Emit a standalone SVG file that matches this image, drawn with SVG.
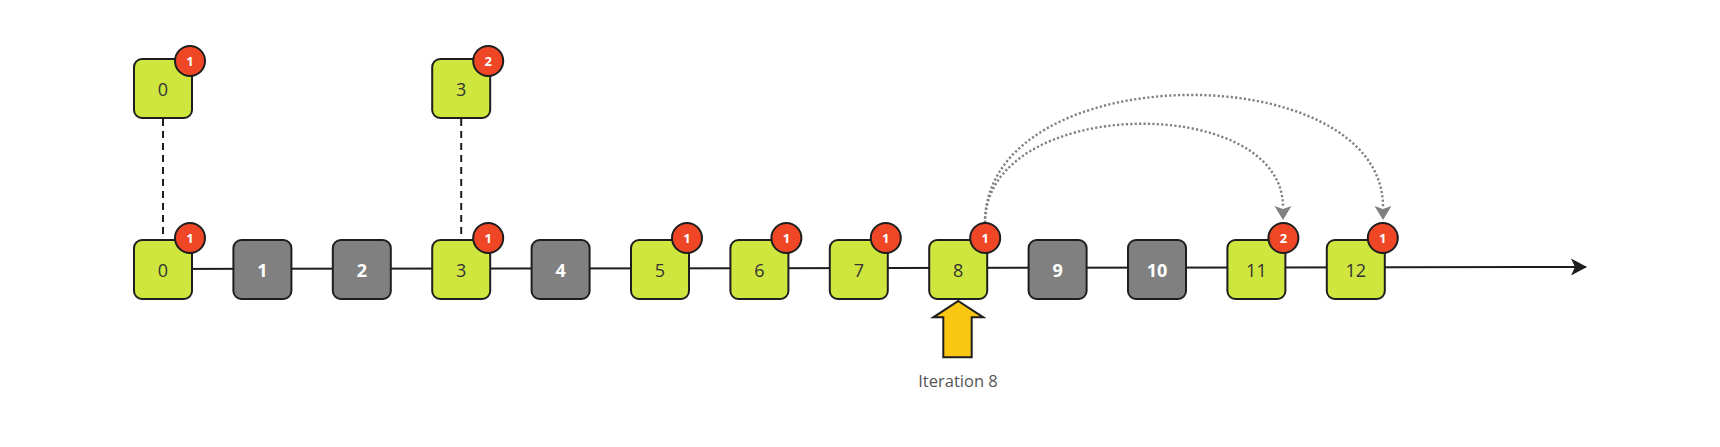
<svg xmlns="http://www.w3.org/2000/svg" width="1720" height="447" viewBox="0 0 1720 447">
<defs>
<style>
.g{fill:#cfe63e;stroke:#1e1e1e;stroke-width:2}
.d{fill:#808080;stroke:#1e1e1e;stroke-width:2}
.b{fill:#ef4726;stroke:#1e1e1e;stroke-width:2}
.tg{font-family:"Open Sans","Noto Sans",sans-serif;font-size:18px;fill:#333333;text-anchor:middle;dominant-baseline:central}
.td{font-family:"Open Sans","Noto Sans",sans-serif;font-size:18px;font-weight:bold;fill:#ffffff;text-anchor:middle;dominant-baseline:central}
.tb{font-family:"Open Sans","Noto Sans",sans-serif;font-size:13px;font-weight:bold;fill:#ffffff;text-anchor:middle;dominant-baseline:central}
.dash{stroke:#1e1e1e;stroke-width:2;stroke-dasharray:7 5;fill:none}
.dot{stroke:#808080;stroke-width:2.4;stroke-dasharray:2.2 2.2;fill:none}
</style>
<marker id="ah" markerWidth="18" markerHeight="18" refX="15" refY="9" orient="auto" markerUnits="userSpaceOnUse">
<path d="M0,0.5 L16,9 L0,17.5 L4,9 Z" fill="#1e1e1e"/>
</marker>
<marker id="gh" markerWidth="16" markerHeight="18" refX="1" refY="9" orient="auto" markerUnits="userSpaceOnUse">
<path d="M0,0.5 L14,9 L0,17.5 L3,9 Z" fill="#808080"/>
</marker>
</defs>
<g id="connectors">
<line x1="163" y1="269" x2="1586" y2="267" stroke="#1e1e1e" stroke-width="2" marker-end="url(#ah)"/>
<line class="dash" x1="163" y1="119" x2="163" y2="240"/>
<line class="dash" x1="461.2" y1="119" x2="461.2" y2="240"/>
<path class="dot" d="M985,223 C985,95 1283,92 1283,207" marker-end="url(#gh)"/>
<path class="dot" d="M985,223 C985,55 1383,55 1383,207" marker-end="url(#gh)"/>
</g>
<g id="top0"><rect class="g" x="134" y="59" width="58" height="59" rx="8"/><text class="tg" x="163" y="89">0</text><circle class="b" cx="190" cy="61" r="15"/><text class="tb" x="190" y="61">1</text></g>
<g id="top3"><rect class="g" x="432.2" y="59" width="58" height="59" rx="8"/><text class="tg" x="461.2" y="89">3</text><circle class="b" cx="488.2" cy="61" r="15"/><text class="tb" x="488.2" y="61">2</text></g>
<g id="n0"><rect class="g" x="134" y="240" width="58" height="59" rx="8"/><text class="tg" x="163" y="270">0</text><circle class="b" cx="190" cy="238" r="15"/><text class="tb" x="190" y="238">1</text></g>
<g id="n1"><rect class="d" x="233.4" y="240" width="58" height="59" rx="8"/><text class="td" x="262.4" y="270">1</text></g>
<g id="n2"><rect class="d" x="332.8" y="240" width="58" height="59" rx="8"/><text class="td" x="361.8" y="270">2</text></g>
<g id="n3"><rect class="g" x="432.2" y="240" width="58" height="59" rx="8"/><text class="tg" x="461.2" y="270">3</text><circle class="b" cx="488.2" cy="238" r="15"/><text class="tb" x="488.2" y="238">1</text></g>
<g id="n4"><rect class="d" x="531.6" y="240" width="58" height="59" rx="8"/><text class="td" x="560.6" y="270">4</text></g>
<g id="n5"><rect class="g" x="631" y="240" width="58" height="59" rx="8"/><text class="tg" x="660" y="270">5</text><circle class="b" cx="687" cy="238" r="15"/><text class="tb" x="687" y="238">1</text></g>
<g id="n6"><rect class="g" x="730.4" y="240" width="58" height="59" rx="8"/><text class="tg" x="759.4" y="270">6</text><circle class="b" cx="786.4" cy="238" r="15"/><text class="tb" x="786.4" y="238">1</text></g>
<g id="n7"><rect class="g" x="829.8" y="240" width="58" height="59" rx="8"/><text class="tg" x="858.8" y="270">7</text><circle class="b" cx="885.8" cy="238" r="15"/><text class="tb" x="885.8" y="238">1</text></g>
<g id="n8"><rect class="g" x="929.2" y="240" width="58" height="59" rx="8"/><text class="tg" x="958.2" y="270">8</text><circle class="b" cx="985.2" cy="238" r="15"/><text class="tb" x="985.2" y="238">1</text></g>
<g id="n9"><rect class="d" x="1028.6" y="240" width="58" height="59" rx="8"/><text class="td" x="1057.6" y="270">9</text></g>
<g id="n10"><rect class="d" x="1128" y="240" width="58" height="59" rx="8"/><text class="td" x="1157" y="270">10</text></g>
<g id="n11"><rect class="g" x="1227.4" y="240" width="58" height="59" rx="8"/><text class="tg" x="1256.4" y="270">11</text><circle class="b" cx="1283.4" cy="238" r="15"/><text class="tb" x="1283.4" y="238">2</text></g>
<g id="n12"><rect class="g" x="1326.8" y="240" width="58" height="59" rx="8"/><text class="tg" x="1355.8" y="270">12</text><circle class="b" cx="1382.8" cy="238" r="15"/><text class="tb" x="1382.8" y="238">1</text></g>
<g id="iteration">
<polygon points="958.3,301 983.3,317.3 971.7,317.3 971.7,357.3 943.3,357.3 943.3,317.3 933.3,317.3" fill="#f9c712" stroke="#1e1e1e" stroke-width="2" stroke-linejoin="miter"/>
<text x="958" y="380" font-family="'Open Sans','Noto Sans',sans-serif" font-size="16.5" fill="#555555" text-anchor="middle" dominant-baseline="central">Iteration 8</text>
</g>
</svg>
